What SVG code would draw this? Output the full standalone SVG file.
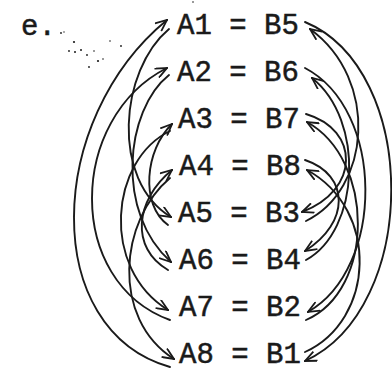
<svg xmlns="http://www.w3.org/2000/svg" width="392" height="372" viewBox="0 0 392 372">
<style>
.lbl{font-family:"Liberation Mono","DejaVu Sans Mono",monospace;font-size:29px;fill:#1a1a1a;stroke:#1a1a1a;stroke-width:0.5}
.c{fill:none;stroke:#1a1a1a;stroke-width:1.9;stroke-linecap:round}
.a{marker-end:url(#ah)}
.dot{fill:#1a1a1a}
</style>
<defs>
<marker id="ah" viewBox="0 0 13 11" refX="12" refY="5.5" markerWidth="13" markerHeight="11" markerUnits="userSpaceOnUse" orient="auto">
<path d="M0.5,0.5 L12,5.5 L0.5,10.5" fill="none" stroke="#1a1a1a" stroke-width="1.8"/>
</marker>
</defs>
<rect width="392" height="372" fill="#fff"/>
<g id="title">
<text class="lbl" x="21" y="35" font-size="26">e.</text>
<circle class="dot" cx="61" cy="33" r="0.9"/>
<circle class="dot" cx="64" cy="32" r="0.7"/>
<circle class="dot" cx="74" cy="42" r="1.1"/>
<circle class="dot" cx="69" cy="51" r="0.9"/>
<circle class="dot" cx="75" cy="52" r="1"/>
<circle class="dot" cx="81" cy="50" r="1"/>
<circle class="dot" cx="87" cy="55" r="0.9"/>
<circle class="dot" cx="94" cy="51" r="0.8"/>
<circle class="dot" cx="98" cy="61" r="1.1"/>
<circle class="dot" cx="103" cy="59" r="0.8"/>
<circle class="dot" cx="89" cy="67" r="0.9"/>
<circle class="dot" cx="110" cy="41" r="0.8"/>
<circle class="dot" cx="121" cy="46" r="0.9"/>
<circle class="dot" cx="193" cy="2" r="0.8"/>
</g>
<g id="row1"><text class="lbl" x="177" y="34">A1 = B5</text></g>
<g id="row2"><text class="lbl" x="177" y="81">A2 = B6</text></g>
<g id="row3"><text class="lbl" x="178" y="128">A3 = B7</text></g>
<g id="row4"><text class="lbl" x="179" y="175">A4 = B8</text></g>
<g id="row5"><text class="lbl" x="178" y="222">A5 = B3</text></g>
<g id="row6"><text class="lbl" x="179" y="269">A6 = B4</text></g>
<g id="row7"><text class="lbl" x="179" y="316">A7 = B2</text></g>
<g id="row8"><text class="lbl" x="179" y="363">A8 = B1</text></g>
<g id="connectors">
<path class="c a" d="M170,367 C40,330 45,120 167,20"/>
<path class="c a" d="M169,29 C120,70 110,180 171,217"/>
<path class="c a" d="M168,225 C140,205 145,150 172,124"/>
<path class="c a" d="M170,131 C110,160 100,268 168,310"/>
<path class="c a" d="M170,320 C65,282 68,118 167,68"/>
<path class="c a" d="M169,75 C125,110 115,213 171,262"/>
<path class="c a" d="M168,270 C130,248 135,200 172,170"/>
<path class="c a" d="M170,178 C120,220 110,318 174,359"/>
<path class="c a" d="M305,22 C420,70 420,308 305,361"/>
<path class="c a" d="M306,221 C370,190 380,80 310,29"/>
<path class="c a" d="M306,114 C360,130 360,190 302,212"/>
<path class="c a" d="M306,320 C375,290 375,160 307,122"/>
<path class="c a" d="M305,68 C385,110 385,268 308,312"/>
<path class="c a" d="M306,260 C360,230 365,120 312,78"/>
<path class="c a" d="M305,160 C350,175 350,223 305,251"/>
<path class="c a" d="M305,352 C375,320 380,210 307,170"/>
</g>
</svg>
